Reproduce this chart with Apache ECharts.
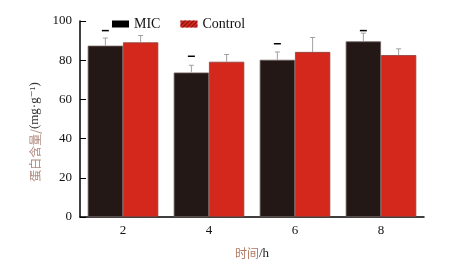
<!DOCTYPE html>
<html>
<head>
<meta charset="utf-8">
<script src="https://cdn.jsdelivr.net/npm/echarts@6/dist/echarts.min.js"></script>
<style>
	html, body { margin: 0; padding: 0; background: #fff; }
	#chart { width: 460px; height: 265px; }
</style>
</head>
<body>
<div id="chart"></div>
<script>
let hours = ['2', '4', '6', '8'];
let micVals = [87.4, 73.7, 80.2, 89.6];
let ctrlVals = [89.1, 79.2, 84.2, 82.6];
let micErr = [3.9, 3.7, 4.0, 4.2]; // upper error
let ctrlErr = [3.5, 3.7, 7.4, 3.2];
let markVals = [95.1, 82.0, 88.4, 95.1]; // 显著性短线
let yTicks = [0, 20, 40, 60, 80, 100];

let chart = echarts.init(document.getElementById('chart'));
let serif = '"Liberation Serif", "DejaVu Serif", serif';

// 误差线, side: -1 MIC, 1 Control
function errRender(vals, errs, side) {
	return function(params, api) {
		let i = api.value(0);
		let band = api.size([1, 0])[0];
		let barW = band * 0.82 / 2;
		let base = api.coord([i, vals[i]]);
		let top = api.coord([i, vals[i] + errs[i]]);
		let x = base[0] + side * barW / 2;
		let style = { stroke: '#a0a0a0', lineWidth: 1 };
		return {
			type: 'group',
			children: [
				{ type: 'line', shape: { x1: x, y1: base[1], x2: x, y2: top[1] }, style: style },
				{ type: 'line', shape: { x1: x - 2.5, y1: top[1], x2: x + 2.5, y2: top[1] }, style: style }
			]
		};
	};
}

let option = {
	animation: false,
	grid: { left: 80, right: 36, top: 21, bottom: 45 },
	legend: {
		left: 112,
		top: 17,
		padding: 0,
		itemWidth: 17,
		itemHeight: 7,
		itemGap: 20,
		icon: 'rect',
		itemStyle: { borderWidth: 0 },
		textStyle: { fontFamily: serif, fontSize: 14, color: '#111' },
		data: [
			{ name: 'MIC', itemStyle: { color: '#000', borderWidth: 0 } },
			{ name: 'Control', itemStyle: { color: '#d4281c', borderWidth: 0, decal: { symbol: 'rect', dashArrayX: [1, 0], dashArrayY: [1, 1.5], rotation: -Math.PI / 4, color: '#7a1010' } } }
		]
	},
	graphic: [{
		type: 'text',
		x: 35,
		y: 132,
		rotation: Math.PI / 2,
		style: {
			text: '{c|蛋白含量/}{l|(mg·g⁻¹)}',
			align: 'center',
			verticalAlign: 'middle',
			rich: {
				c: { fontFamily: '"Noto Sans CJK SC"', fontSize: 12, fill: '#b08a80' },
				l: { fontFamily: serif, fontSize: 13, fill: '#333' }
			}
		}
	}],
	xAxis: {
		type: 'category',
		data: hours,
		name: '{c|时间}{l|/h}',
		nameLocation: 'middle',
		nameGap: 30,
		nameTextStyle: {
			rich: {
				c: { fontFamily: '"Noto Sans CJK SC"', fontSize: 12, color: '#b07a62' },
				l: { fontFamily: serif, fontSize: 13, color: '#222' }
			}
		},
		axisLine: { lineStyle: { color: '#000', width: 1.5 } },
		axisTick: { inside: true, length: 6, lineStyle: { color: '#000', width: 1 } },
		axisLabel: { fontFamily: serif, fontSize: 13, color: '#111', margin: 7 }
	},
	yAxis: {
		type: 'value',
		min: yTicks[0],
		max: yTicks[yTicks.length - 1],
		interval: 20,
		splitLine: { show: false },
		axisLine: { show: true, lineStyle: { color: '#000', width: 1.5 } },
		axisTick: { show: true, inside: true, length: 6, lineStyle: { color: '#000', width: 1 } },
		axisLabel: { fontFamily: serif, fontSize: 13, color: '#111', margin: 8 }
	},
	series: [
		{
			name: 'MIC',
			type: 'bar',
			data: micVals,
			barGap: 0,
			barCategoryGap: '18%',
			itemStyle: { color: '#231816', borderColor: '#6a5a58', borderWidth: 0.8 }
		},
		{
			name: 'Control',
			type: 'bar',
			data: ctrlVals,
			barGap: 0,
			barCategoryGap: '18%',
			itemStyle: { color: '#d4281c', borderColor: '#8a4038', borderWidth: 0.8 }
		},
		{
			type: 'custom',
			renderItem: errRender(micVals, micErr, -1),
			data: hours.map((h, i) => [i]),
			z: 3
		},
		{
			type: 'custom',
			renderItem: errRender(ctrlVals, ctrlErr, 1),
			data: hours.map((h, i) => [i]),
			z: 3
		},
		{
			type: 'custom',
			renderItem: function(params, api) {
				let i = api.value(0);
				let band = api.size([1, 0])[0];
				let barW = band * 0.82 / 2;
				let p = api.coord([i, api.value(1)]);
				let x = p[0] - barW / 2;
				return { type: 'line', shape: { x1: x - 3.5, y1: p[1], x2: x + 3.5, y2: p[1] }, style: { stroke: '#000', lineWidth: 1.5 } };
			},
			data: markVals.map((v, i) => [i, v]),
			z: 3
		}
	]
};

chart.setOption(option);
</script>
</body>
</html>
